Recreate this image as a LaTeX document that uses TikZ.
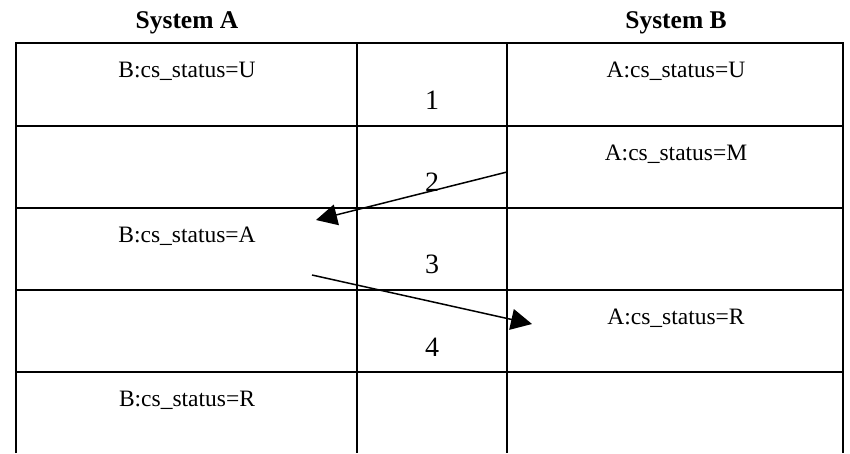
\documentclass[tikz,border=0pt]{standalone}
\usepackage{fontspec}
\setmainfont{Liberation Serif}
\usetikzlibrary{arrows.meta}
\begin{document}
\begin{tikzpicture}[x=1pt,y=-1pt,
  grid/.style={line width=2pt},
  celltext/.style={anchor=base,inner sep=0pt,font=\fontsize{23.5}{26}\selectfont},
  steptext/.style={anchor=base,inner sep=0pt,font=\fontsize{28}{32}\selectfont},
  headtext/.style={anchor=base,inner sep=0pt,font=\fontsize{25.5}{28}\selectfont\bfseries},
  msg/.style={line width=1.5pt,-{Triangle[length=21pt,width=21pt]}}]
\useasboundingbox (0,0) rectangle (850,453);
\fill[white] (0,0) rectangle (850,453);

% column headings
\node[headtext] (hA) at (187,28) {System A};
\node[headtext] (hB) at (676,28) {System B};

% table rules
\draw[grid] (16,453) -- (16,43) -- (843,43) -- (843,453);
\foreach \y in {126,208,290,372} \draw[grid] (16,\y) -- (843,\y);
\draw[grid] (357,43) -- (357,453);
\draw[grid] (507,43) -- (507,453);

% status entries
\node[celltext] (a1) at (187,77)  {B:cs\_status=U};
\node[celltext] (b1) at (676,77)  {A:cs\_status=U};
\node[celltext] (b2) at (676,160) {A:cs\_status=M};
\node[celltext] (a3) at (187,242) {B:cs\_status=A};
\node[celltext] (b4) at (676,324) {A:cs\_status=R};
\node[celltext] (a5) at (187,406) {B:cs\_status=R};

% step numbers
\node[steptext] (s1) at (432,109) {1};
\node[steptext] (s2) at (432,191) {2};
\node[steptext] (s3) at (432,273) {3};
\node[steptext] (s4) at (432,356) {4};

% messages between the systems
\coordinate (m1start) at (507,172);
\coordinate (m1end) at (316,220);
\coordinate (m2start) at (312,275);
\coordinate (m2end) at (532,324);
\draw[msg] (m1start) -- (m1end);
\draw[msg] (m2start) -- (m2end);
\end{tikzpicture}
\end{document}
